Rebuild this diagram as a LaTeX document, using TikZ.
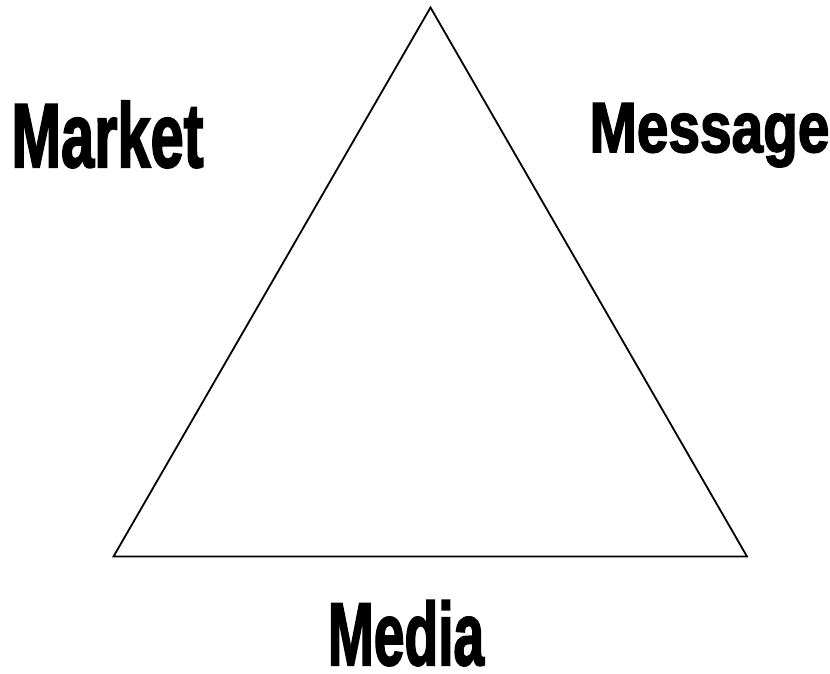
\documentclass[tikz,border=0pt]{standalone}
\usepackage{fontspec}
\setmainfont{Liberation Sans}
% heavy display face for the three words
\newfontfamily\heavyfont[FakeBold=2.5]{Liberation Sans Bold}
\usepackage{tikz}

\begin{document}
\begin{tikzpicture}[x=1pt, y=1pt,
        word/.style={anchor=base, transform shape, inner sep=0pt},
        side/.style={draw, line width=1.8pt, line join=miter}
    ]
        \useasboundingbox (0,0) rectangle (830,-673);
        % corners of the triangle
        \coordinate (top)   at (430.5, -7.5);
        \coordinate (left)  at (113.5, -556.5);
        \coordinate (right) at (747, -556.5);
        \draw[side] (top)--(left)--(right)--cycle;

        \node[word, xscale=0.655, font=\heavyfont\fontsize{91}{92}\selectfont]
            (mkt) at (107.5, -167) {Market};
        \node[word, xscale=0.80, font=\heavyfont\fontsize{71}{72}\selectfont]
            (msg) at (709.5, -152) {Message};
        \node[word, xscale=0.62, font=\heavyfont\fontsize{89}{90}\selectfont]
            (med) at (406, -665) {Media};
    \end{tikzpicture}
\end{document}
